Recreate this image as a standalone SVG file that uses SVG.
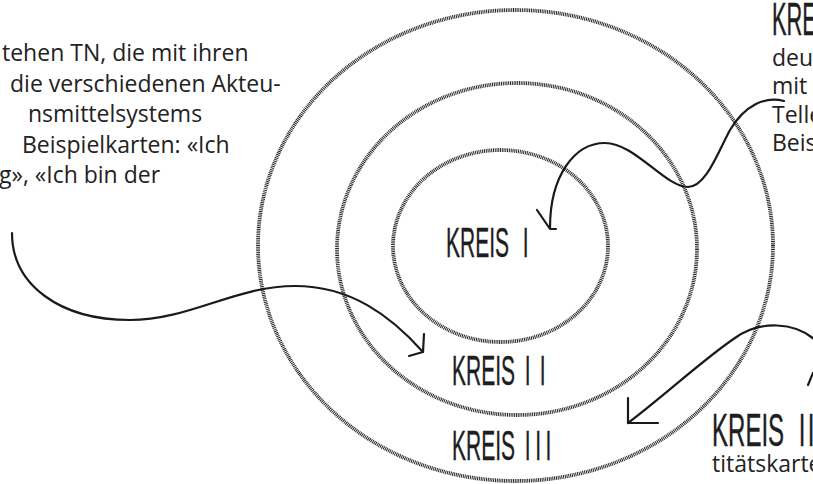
<svg xmlns="http://www.w3.org/2000/svg" width="813" height="484" viewBox="0 0 813 484">
<style>
.ring{fill:none;stroke:#262626;stroke-width:3.8;stroke-dasharray:1 0.8}
.hand{font-family:"Liberation Sans",Arial,sans-serif;font-size:42px;fill:#1e1e1e;stroke:#1e1e1e;stroke-width:0.4}
.body{font-family:"Open Sans","Liberation Sans",sans-serif;font-size:23px;fill:#222222}
.conn{fill:none;stroke:#1a1a1a;stroke-width:2.2;stroke-linecap:round;stroke-linejoin:round}
</style>
<rect width="813" height="484" fill="#ffffff"/>
<g id="ring-outer"><ellipse class="ring" cx="515.5" cy="245.5" rx="257.5" ry="235.5"/></g>
<g id="ring-middle"><ellipse class="ring" cx="517" cy="249" rx="180" ry="166"/></g>
<g id="ring-inner"><ellipse class="ring" cx="500.5" cy="246" rx="107.5" ry="96"/></g>
<g id="label-kreis1"><text class="hand" transform="translate(446,257) scale(0.5,1)" word-spacing="16">KREIS I</text></g>
<g id="label-kreis2"><text class="hand" transform="translate(452,385) scale(0.5,1)" word-spacing="8">KREIS <tspan letter-spacing="18">II</tspan></text></g>
<g id="label-kreis3"><text class="hand" transform="translate(452,460) scale(0.5,1)" word-spacing="8">KREIS <tspan letter-spacing="9">III</tspan></text></g>
<g id="text-left">
<text class="body" x="2" y="61">tehen TN, die mit ihren</text>
<text class="body" x="10" y="92">die verschiedenen Akteu-</text>
<text class="body" x="28" y="122">nsmittelsystems</text>
<text class="body" x="22" y="153">Beispielkarten: «Ich</text>
<text class="body" x="-1" y="183">g», «Ich bin der</text>
</g>
<g id="text-topright">
<text class="hand" transform="translate(772,35) scale(0.52,1.1)">KRE</text>
<text class="body" x="772" y="66">deu</text>
<text class="body" x="772" y="94">mit</text>
<text class="body" x="772" y="123">Telle</text>
<text class="body" x="772" y="151">Beis</text>
</g>
<g id="text-bottomright">
<text class="hand" transform="translate(712,446) scale(0.53,1) scale(1.08)" word-spacing="14">KREIS <tspan letter-spacing="4">II</tspan></text>
<text class="body" x="712" y="472">titätskarte</text>
</g>
<g id="connectors">
<path class="conn" d="M12,233 C12,285 60,320 130,320 C190,320 235,286 295,286 C350,286 390,315 423,352"/>
<path class="conn" d="M424,334 L423,352 L409,356"/>
<path class="conn" d="M784,101 C765,96 745,105 730,130 C718,152 706,187 688,187 C665,187 635,143 605,143 C575,143 550,175 550,228"/>
<path class="conn" d="M537,210 L550,229 L556,229"/>
<path class="conn" d="M815,340 C795,322 760,320 735,338 C705,358 665,395 628,423"/>
<path class="conn" d="M628,398 L628,423 L658,423"/>
<path class="conn" d="M808,385 L813,373"/>
</g>
</svg>
